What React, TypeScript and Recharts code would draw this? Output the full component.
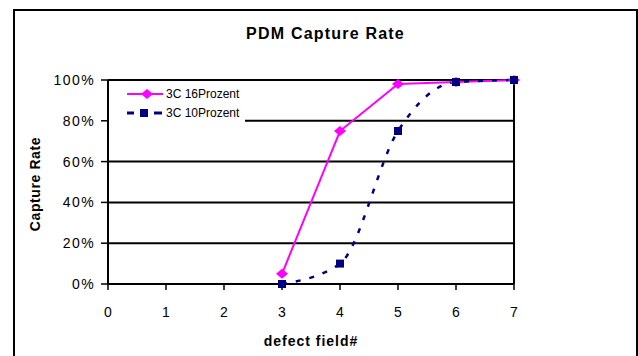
import React from "react";
import {
  LineChart,
  Line,
  XAxis,
  YAxis,
  CartesianGrid,
  Legend,
  ReferenceLine,
  Label,
} from "recharts";

// values
const defectFields = [3, 4, 5, 6, 7];
const rate16Prozent = [5, 75, 98, 99, 100];
const rate10Prozent = [0, 10, 75, 99, 100];
const xTicks = [0, 1, 2, 3, 4, 5, 6, 7];
const yTicks = [0, 20, 40, 60, 80, 100];
const legendOrder = ["s16", "s10"];

const FONT = "'Liberation Sans', Arial, Helvetica, sans-serif";
const MAGENTA = "#ff00ff";
const NAVY = "#000080";

const data = defectFields.map((x, i) => ({
  x,
  s16: rate16Prozent[i],
  s10: rate10Prozent[i],
}));

const Diamond = (props: any) => {
  const { cx, cy } = props;
  if (cx == null || cy == null) return null;
  return (
    <polygon
      points={`${cx - 6},${cy} ${cx},${cy - 5} ${cx + 6},${cy} ${cx},${cy + 5}`}
      fill={MAGENTA}
    />
  );
};

const Square = (props: any) => {
  const { cx, cy } = props;
  if (cx == null || cy == null) return null;
  return <rect x={cx - 4} y={cy - 4} width={8} height={8} fill={NAVY} />;
};

const LegendBox = (props: any) => {
  const items = [...(props.payload || [])].sort(
    (a: any, b: any) => legendOrder.indexOf(a.dataKey) - legendOrder.indexOf(b.dataKey)
  );
  return (
    <div style={{ background: "#fff", width: 136, height: 38, fontFamily: FONT }}>
      {items.map((item: any) => {
        const dashed = item.dataKey === "s10";
        return (
          <div key={item.value} style={{ display: "flex", alignItems: "center", height: 19 }}>
            <svg width={36} height={12} style={{ marginLeft: 18, display: "block" }}>
              {dashed ? (
                <>
                  <line x1={0} y1={6} x2={7} y2={6} stroke={NAVY} strokeWidth={3} />
                  <rect x={13} y={2} width={8} height={8} fill={NAVY} />
                  <line x1={27} y1={6} x2={35} y2={6} stroke={NAVY} strokeWidth={3} />
                </>
              ) : (
                <>
                  <line x1={0} y1={6} x2={36} y2={6} stroke={MAGENTA} strokeWidth={2} />
                  <polygon points="14,6 20,1 26,6 20,11" fill={MAGENTA} />
                </>
              )}
            </svg>
            <span style={{ fontSize: 12, marginLeft: 3, color: "#000" }}>{item.value}</span>
          </div>
        );
      })}
    </div>
  );
};

export default function App() {
  return (
    <div style={{ position: "absolute", left: 0, top: 0, width: 638, height: 356, background: "#fff", overflow: "hidden" }}>
      <div
        style={{
          position: "absolute",
          left: 13,
          top: 9,
          width: 625,
          height: 360,
          boxSizing: "border-box",
          border: "2px solid #000",
        }}
      />
      <div
        style={{
          position: "absolute",
          left: 13,
          width: 625,
          top: 24,
          textAlign: "center",
          fontFamily: FONT,
          fontWeight: "bold",
          fontSize: 16,
          letterSpacing: 1.2,
          lineHeight: "20px",
        }}
      >
        PDM Capture Rate
      </div>
      <div style={{ position: "absolute", left: 0, top: 0 }}>
        <LineChart
          width={638}
          height={356}
          data={data}
          margin={{ top: 80, right: 124, bottom: 12, left: 0 }}
          style={{ fontFamily: FONT }}
        >
          <CartesianGrid horizontal vertical={false} stroke="#000" strokeWidth={2} />
          <XAxis
            dataKey="x"
            type="number"
            domain={[0, 7]}
            ticks={xTicks}
            interval={0}
            height={60}
            tickSize={6}
            tickMargin={17}
            axisLine={{ stroke: "#000", strokeWidth: 2 }}
            tickLine={{ stroke: "#000", strokeWidth: 1.5 }}
            tick={{ fill: "#000", fontSize: 14 }}
          >
            <Label
              content={(p: any) => {
                const vb = p.viewBox;
                return (
                  <text
                    x={vb.x + vb.width / 2}
                    y={vb.y + 62}
                    textAnchor="middle"
                    fontWeight="bold"
                    fontSize={14}
                    style={{ letterSpacing: 1 }}
                    fill="#000"
                  >
                    defect field#
                  </text>
                );
              }}
            />
          </XAxis>
          <YAxis
            type="number"
            domain={[0, 100]}
            ticks={yTicks}
            interval={0}
            width={108}
            tickSize={7}
            tickMargin={6}
            tickFormatter={(v: number) => `${v}%`}
            axisLine={{ stroke: "#000", strokeWidth: 2 }}
            tickLine={{ stroke: "#000", strokeWidth: 1.5 }}
            tick={{ fill: "#000", fontSize: 14, style: { letterSpacing: 1.4 } }}
          >
            <Label
              content={(p: any) => {
                const vb = p.viewBox;
                const cx = 40;
                const cy = vb.y + vb.height / 2 + 2;
                return (
                  <text
                    x={cx}
                    y={cy}
                    transform={`rotate(-90 ${cx} ${cy})`}
                    textAnchor="middle"
                    fontWeight="bold"
                    fontSize={14}
                    style={{ letterSpacing: 0.6 }}
                    fill="#000"
                  >
                    Capture Rate
                  </text>
                );
              }}
            />
          </YAxis>
          <ReferenceLine y={100} stroke="#000" strokeWidth={2} />
          <ReferenceLine x={7} stroke="#000" strokeWidth={2} />
          <Legend
            layout="vertical"
            align="center"
            verticalAlign="middle"
            itemSorter={null}
            content={<LegendBox />}
            wrapperStyle={{ left: 109, top: 84, width: 136, height: 38 }}
          />
          <Line
            dataKey="s16"
            name="3C 16Prozent"
            type="linear"
            stroke={MAGENTA}
            strokeWidth={2}
            dot={<Diamond />}
            activeDot={false}
            isAnimationActive={false}
          />
          <Line
            dataKey="s10"
            name="3C 10Prozent"
            type="monotone"
            stroke={NAVY}
            strokeWidth={2.5}
            strokeDasharray="5 9"
            dot={<Square />}
            activeDot={false}
            isAnimationActive={false}
          />
        </LineChart>
      </div>
    </div>
  );
}
